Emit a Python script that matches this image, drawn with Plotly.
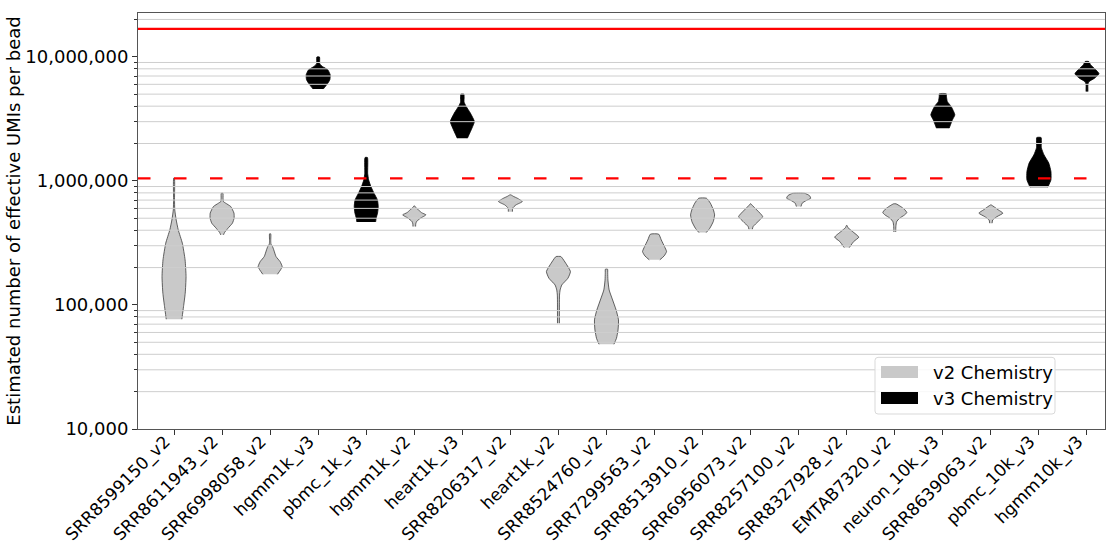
import plotly.graph_objects as go

# ---------------- data ----------------
categories = ["SRR8599150_v2", "SRR8611943_v2", "SRR6998058_v2", "hgmm1k_v3", "pbmc_1k_v3",
              "hgmm1k_v2", "heart1k_v3", "SRR8206317_v2", "heart1k_v2", "SRR8524760_v2",
              "SRR7299563_v2", "SRR8513910_v2", "SRR6956073_v2", "SRR8257100_v2", "SRR8327928_v2",
              "EMTAB7320_v2", "neuron_10k_v3", "SRR8639063_v2", "pbmc_10k_v3", "hgmm10k_v3"]
chemistry = ["v2", "v2", "v2", "v3", "v3", "v2", "v3", "v2", "v2", "v2",
             "v2", "v2", "v2", "v2", "v2", "v2", "v3", "v2", "v3", "v3"]

# violin outlines: UMI values (bottom -> top) and relative density width
profile_values = [
    [76700, 96800, 124200, 169000, 230700, 314800, 402700, 484200, 583400, 707900, 1052000],
    [367300, 382800, 415000, 456000, 501200, 549500, 620900, 660700, 680800, 724400, 794300],
    [176600, 191400, 203700, 223400, 245500, 278000, 295100, 309000, 330000, 374100],
    [5495400, 6025600, 6531300, 7161400, 7852400, 8356000, 8800000, 9954000],
    [466700, 501200, 549500, 620900, 703100, 794300, 899500, 1018600, 1150000, 1541700],
    [428500, 450000, 469900, 500000, 515200, 532100, 554600, 583400, 610000, 628100],
    [2208000, 2660700, 3006000, 3515600, 3981100, 4300000, 5000300],
    [564900, 602600, 639700, 680800, 724400, 750000, 770900],
    [71100, 100000, 120000, 132100, 144900, 164100, 185800, 216800, 240000, 245500],
    [48200, 53800, 62800, 75700, 91200, 109600, 132100, 158500, 180300, 194100],
    [231000, 248300, 269200, 295100, 334200, 371500],
    [382800, 415000, 469900, 532100, 583400, 660700, 724400],
    [407400, 428500, 469900, 515200, 583400, 640000, 653100],
    [620900, 660700, 693400, 724400, 760000, 794300],
    [289700, 324300, 351600, 389900, 420000, 436500],
    [388000, 430000, 468000, 500000, 530000, 555000, 590000, 625000, 653000],
    [2660700, 3104600, 3404100, 3981100, 4365200, 4800000, 5035000],
    [456000, 484200, 515200, 549500, 583400, 639700],
    [889200, 1018600, 1188500, 1390000, 1621800, 1850000, 2233600],
    [5248100, 6000000, 6309600, 6729800, 7294600, 7852400, 8609900, 9162000],
]
profile_widths = [
    [0.65, 0.79, 0.93, 1.0, 0.92, 0.69, 0.35, 0.18, 0.06, 0.04, 0.03],
    [0.12, 0.2, 0.49, 0.86, 1.0, 0.99, 0.72, 0.3, 0.11, 0.08, 0.07],
    [0.61, 0.86, 1.0, 0.83, 0.49, 0.3, 0.2, 0.07, 0.05, 0.05],
    [0.42, 0.75, 0.97, 1.0, 0.8, 0.35, 0.13, 0.11],
    [0.78, 0.83, 0.94, 1.0, 0.93, 0.65, 0.39, 0.2, 0.12, 0.1],
    [0.11, 0.12, 0.19, 0.51, 0.75, 0.97, 0.6, 0.35, 0.12, 0.03],
    [0.42, 0.8, 1.0, 0.67, 0.32, 0.15, 0.13],
    [0.17, 0.19, 0.46, 0.99, 0.58, 0.25, 0.04],
    [0.08, 0.08, 0.09, 0.14, 0.28, 0.79, 1.0, 0.61, 0.3, 0.2],
    [0.62, 0.83, 0.96, 1.0, 0.8, 0.51, 0.22, 0.12, 0.1, 0.09],
    [0.44, 0.8, 1.0, 0.83, 0.56, 0.35],
    [0.3, 0.6, 0.89, 1.0, 0.9, 0.65, 0.32],
    [0.14, 0.21, 0.62, 1.0, 0.51, 0.1, 0.03],
    [0.19, 0.29, 0.62, 1.0, 0.9, 0.49],
    [0.21, 0.58, 1.0, 0.49, 0.1, 0.03],
    [0.08, 0.09, 0.15, 0.4, 0.8, 1.0, 0.8, 0.45, 0.1],
    [0.53, 0.8, 1.0, 0.69, 0.37, 0.3, 0.29],
    [0.1, 0.15, 0.51, 1.0, 0.62, 0.03],
    [0.74, 1.0, 1.0, 0.82, 0.42, 0.2, 0.18],
    [0.08, 0.08, 0.17, 0.64, 1.0, 0.74, 0.3, 0.15],
]

y_tick_vals = [1e4, 1e5, 1e6, 1e7]
y_tick_text = ["10,000", "100,000", "1,000,000", "10,000,000"]
upper_limit_line = 16777216   # 4^12
lower_limit_line = 1048576    # 4^10
legend_labels = ["v2 Chemistry", "v3 Chemistry"]

# ---------------- style ----------------
FONT = "DejaVu Sans"
FS = 18
XFS = 17
COLORS = {"v2": "#c9c9c9", "v3": "#000000"}
EDGES = {"v2": "#3c3c3c", "v3": "#000000"}
HALF = 0.25
Y_RANGE_LOG = [4, 7.353]

fig = go.Figure()

for i, (vals, wid) in enumerate(zip(profile_values, profile_widths)):
    chem = chemistry[i]
    xs = [i + HALF * w for w in wid] + [i - HALF * w for w in reversed(wid)]
    ys = list(vals) + list(reversed(vals))
    fig.add_trace(go.Scatter(
        x=xs, y=ys, mode="lines", fill="toself",
        fillcolor=COLORS[chem],
        line=dict(color=EDGES[chem], width=0.8, shape="spline", smoothing=0.5),
        showlegend=False, hoverinfo="skip",
    ))

shapes = []
# minor grid lines drawn above the violins
for k in range(4, 8):
    for m in range(2, 10):
        v = m * 10 ** k
        if v < 10 ** Y_RANGE_LOG[1]:
            shapes.append(dict(type="line", xref="paper", yref="y", x0=0, x1=1, y0=v, y1=v,
                               line=dict(color="#cecece", width=1), layer="above"))
shapes.append(dict(type="line", xref="paper", yref="y", x0=0, x1=1,
                   y0=upper_limit_line, y1=upper_limit_line,
                   line=dict(color="#ff0000", width=2.2), layer="above"))
shapes.append(dict(type="line", xref="paper", yref="y", x0=0, x1=1,
                   y0=lower_limit_line, y1=lower_limit_line,
                   line=dict(color="#ff0000", width=2.2, dash="12.5px,23.5px"), layer="above"))

# legend (drawn to match the patch style)
PW, PH = 967.0, 416.3
def px_x(p):
    return (p - 138) / PW
def px_y(p):
    return (429 - p) / PH

bx0, bx1, by0, by1 = px_x(875), px_x(1055), px_y(414), px_y(357.3)
rx, ry = 3 / PW, 3 / PH
path = (f"M{bx0+rx},{by0} L{bx1-rx},{by0} Q{bx1},{by0} {bx1},{by0+ry} "
        f"L{bx1},{by1-ry} Q{bx1},{by1} {bx1-rx},{by1} L{bx0+rx},{by1} "
        f"Q{bx0},{by1} {bx0},{by1-ry} L{bx0},{by0+ry} Q{bx0},{by0} {bx0+rx},{by0} Z")
shapes.append(dict(type="path", xref="paper", yref="paper", path=path,
                   fillcolor="rgba(255,255,255,0.85)", line=dict(color="#d9d9d9", width=1),
                   layer="above"))
annotations = []
for j, (lab, chem) in enumerate(zip(legend_labels, ["v2", "v3"])):
    cy = 372 + 26 * j
    shapes.append(dict(type="rect", xref="paper", yref="paper",
                       x0=px_x(881), x1=px_x(918), y0=px_y(cy + 6), y1=px_y(cy - 6),
                       fillcolor=COLORS[chem], line=dict(width=0), layer="above"))
    annotations.append(dict(xref="paper", yref="paper", x=px_x(931), y=px_y(cy),
                            xanchor="left", yanchor="middle", text=lab, showarrow=False,
                            font=dict(family=FONT, size=FS, color="#000000")))

fig.update_layout(
    width=1107, height=546,
    margin=dict(l=138, r=2, t=13, b=117),
    paper_bgcolor="white", plot_bgcolor="white",
    font=dict(family=FONT, size=FS, color="#000000"),
    shapes=shapes, annotations=annotations,
    showlegend=False,
)
fig.update_xaxes(
    range=[-0.75, 19.375], automargin=False,
    tickmode="array", tickvals=list(range(len(categories))), ticktext=categories,
    tickangle=-45, ticks="outside", ticklen=5, tickcolor="#333333",
    ticklabelstandoff=-10, ticklabelshift=-9,
    showgrid=False, zeroline=False,
    showline=True, mirror=True, linecolor="#555555", linewidth=1,
    tickfont=dict(family=FONT, size=XFS),
)
fig.update_yaxes(
    type="log", range=Y_RANGE_LOG, automargin=False,
    tickmode="array", tickvals=y_tick_vals, ticktext=y_tick_text,
    ticks="outside", ticklen=5, tickcolor="#333333",
    minor=dict(ticks="outside", ticklen=3, tickcolor="#333333",
               tickvals=[m * 10 ** k for k in range(4, 8) for m in range(2, 10)
                         if m * 10 ** k < 10 ** Y_RANGE_LOG[1]], showgrid=False),
    showgrid=False, zeroline=False,
    showline=True, mirror=True, linecolor="#555555", linewidth=1,
    tickfont=dict(family=FONT, size=FS),
    title=dict(text="Estimated number of effective UMIs per bead",
               font=dict(family=FONT, size=FS), standoff=0),
)

fig.write_html("out.html")
